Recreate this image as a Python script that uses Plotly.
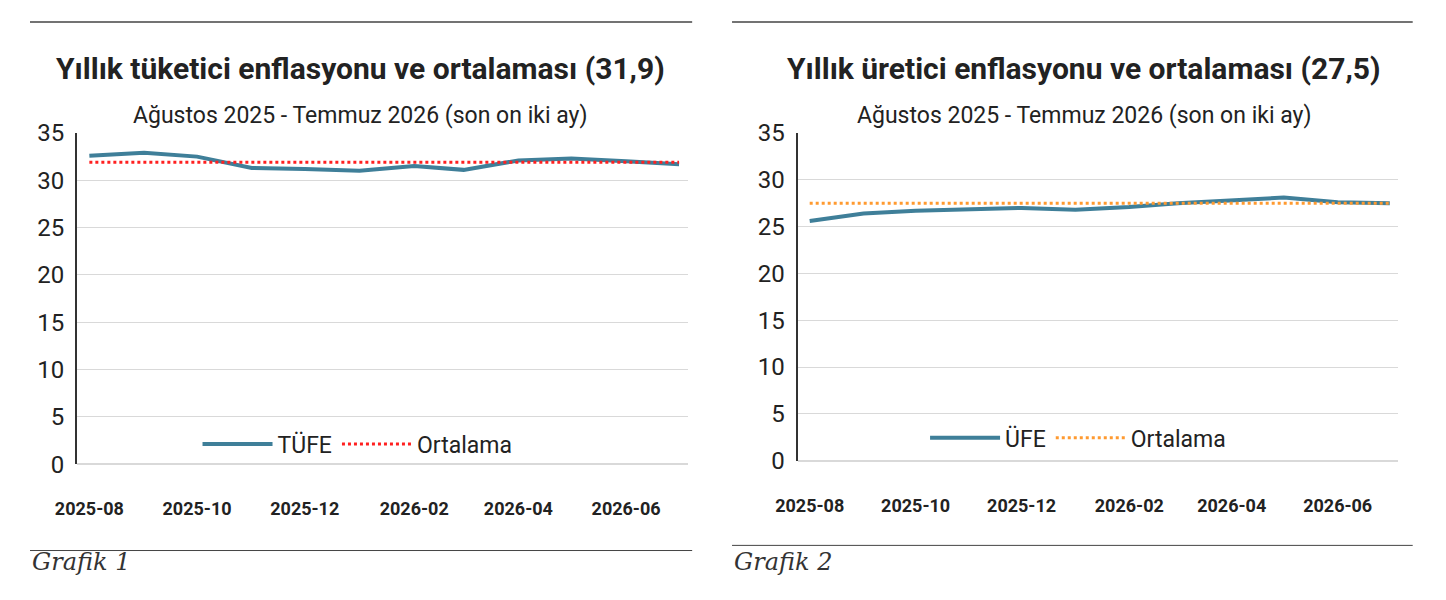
import plotly.graph_objects as go

months = ["2025-08-01", "2025-09-01", "2025-10-01", "2025-11-01", "2025-12-01", "2026-01-01",
          "2026-02-01", "2026-03-01", "2026-04-01", "2026-05-01", "2026-06-01", "2026-07-01"]
tufe = [32.6, 32.9, 32.5, 31.3, 31.2, 31.0, 31.5, 31.1, 32.1, 32.3, 32.0, 31.7]
tufe_avg = 31.9
ufe = [25.6, 26.4, 26.7, 26.8, 27.0, 26.8, 27.1, 27.5, 27.8, 28.1, 27.6, 27.5]
ufe_avg = 27.5

line_col = "#3f7f99"
font = "Roboto"

fig = go.Figure()
fig.add_trace(go.Scatter(x=months, y=tufe, mode="lines", name="TÜFE",
                         line=dict(color=line_col, width=4), xaxis="x", yaxis="y", legend="legend"))
fig.add_trace(go.Scatter(x=months, y=[tufe_avg] * len(months), mode="lines", name="Ortalama",
                         line=dict(color="#ff2020", width=3, dash="dot"), xaxis="x", yaxis="y", legend="legend"))
fig.add_trace(go.Scatter(x=months, y=ufe, mode="lines", name="ÜFE",
                         line=dict(color=line_col, width=4), xaxis="x2", yaxis="y2", legend="legend2"))
fig.add_trace(go.Scatter(x=months, y=[ufe_avg] * len(months), mode="lines", name="Ortalama",
                         line=dict(color="#ff9a30", width=3, dash="dot"), xaxis="x2", yaxis="y2", legend="legend2"))

xax = dict(type="date", range=["2025-07-25", "2026-07-06"], tickmode="array",
           tickvals=["2025-08-01", "2025-10-01", "2025-12-01", "2026-02-01", "2026-04-01", "2026-06-01"],
           tickformat="%Y-%m", showgrid=False, showline=False, ticks="", ticklabelstandoff=32,
           tickfont=dict(family=font, size=18, color="#222", weight="bold"))
yax = dict(range=[0, 35], dtick=5, showgrid=True, gridcolor="#d9d9d9", showline=True,
           linecolor="#333", linewidth=2, zeroline=True, zerolinecolor="#d9d9d9",
           tickfont=dict(family=font, size=24, color="#222"), ticks="", ticklabelstandoff=6)

leg = dict(orientation="h", bgcolor="rgba(0,0,0,0)", font=dict(family=font, size=23, color="#222"),
           itemwidth=70, xanchor="center", yanchor="middle")

fig.update_layout(
    width=1446, height=600, plot_bgcolor="white", paper_bgcolor="white",
    margin=dict(l=0, r=0, t=0, b=0),
    xaxis=dict(xax, domain=[0.033, 0.462], anchor="y"),
    yaxis=dict(yax, domain=[0.227, 0.806], anchor="x"),
    xaxis2=dict(xax, domain=[0.539, 0.961], anchor="y2"),
    yaxis2=dict(yax, domain=[0.233, 0.806], anchor="x2"),
    legend=dict(leg, x=0.23, y=0.262),
    legend2=dict(leg, x=0.736, y=0.273),
    shapes=[
        dict(type="line", xref="paper", yref="paper", x0=0, x1=0.465, y0=1.0, y1=1.0, line=dict(color="#444", width=1.5)),
        dict(type="line", xref="paper", yref="paper", x0=0.493, x1=0.971, y0=1.0, y1=1.0, line=dict(color="#444", width=1.5)),
        dict(type="line", xref="paper", yref="paper", x0=0, x1=0.465, y0=0.076, y1=0.076, line=dict(color="#444", width=1)),
        dict(type="line", xref="paper", yref="paper", x0=0.493, x1=0.971, y0=0.085, y1=0.085, line=dict(color="#444", width=1)),
    ],
    annotations=[
        dict(text="<b>Yıllık tüketici enflasyonu ve ortalaması (31,9)</b>", x=0.232, y=0.953, xref="paper", yref="paper",
             xanchor="center", showarrow=False, font=dict(family=font, size=30, color="#222")),
        dict(text="Ağustos 2025 - Temmuz 2026 (son on iki ay)", x=0.232, y=0.863, xref="paper", yref="paper",
             xanchor="center", showarrow=False, font=dict(family=font, size=23, color="#222")),
        dict(text="<b>Yıllık üretici enflasyonu ve ortalaması (27,5)</b>", x=0.74, y=0.953, xref="paper", yref="paper",
             xanchor="center", showarrow=False, font=dict(family=font, size=30, color="#222")),
        dict(text="Ağustos 2025 - Temmuz 2026 (son on iki ay)", x=0.74, y=0.863, xref="paper", yref="paper",
             xanchor="center", showarrow=False, font=dict(family=font, size=23, color="#222")),
        dict(text="<i>Grafik 1</i>", x=0.0, y=0.028, xref="paper", yref="paper", xanchor="left",
             showarrow=False, font=dict(family="DejaVu Serif", size=24, color="#333")),
        dict(text="<i>Grafik 2</i>", x=0.493, y=0.028, xref="paper", yref="paper", xanchor="left",
             showarrow=False, font=dict(family="DejaVu Serif", size=24, color="#333")),
    ],
)

fig.write_html("out.html")
